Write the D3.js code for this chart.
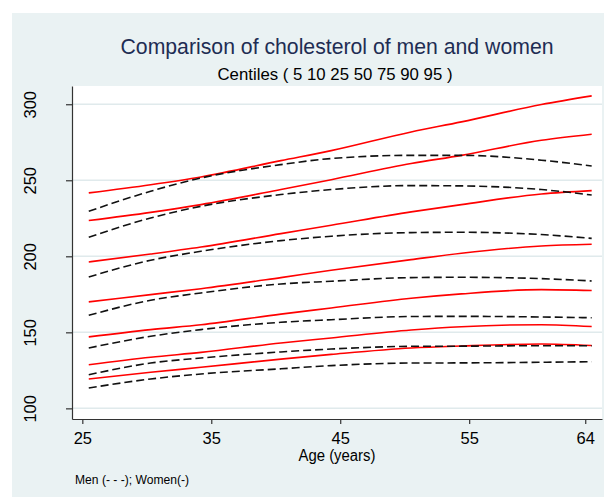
<!DOCTYPE html>
<html>
<head>
<meta charset="utf-8">
<script src="https://cdn.jsdelivr.net/npm/d3@7"></script>
<style>
  body { margin: 0; background: #fff; }
  svg { display: block; font-family: "Liberation Sans", Arial, sans-serif; }
</style>
</head>
<body>
<div id="chart"></div>
<script>
var ages = [25.5, 30.3, 34.2, 40.4, 44.3, 50.5, 54.4, 60.6, 64.5];

// women (solid red), centiles 5 10 25 50 75 90 95
var women_p5  = [119.3, 123.7, 127.0, 132.4, 135.5, 139.7, 141.0, 142.3, 141.3];
var women_p10 = [128.7, 133.6, 136.8, 143.0, 146.3, 151.5, 153.7, 155.0, 153.8];
var women_p25 = [147.0, 151.8, 155.0, 162.0, 166.0, 172.4, 175.3, 178.1, 177.5];
var women_p50 = [170.0, 174.8, 178.7, 186.0, 190.8, 197.8, 202.0, 206.8, 207.9];
var women_p75 = [196.3, 201.5, 206.1, 214.9, 220.4, 229.2, 234.0, 241.0, 243.2];
var women_p90 = [223.5, 228.9, 234.0, 243.9, 250.4, 261.0, 266.4, 276.3, 280.3];
var women_p95 = [241.7, 247.1, 252.2, 262.9, 269.5, 281.8, 288.4, 299.8, 305.5];

// men (dashed black)
var men_p5  = [113.4, 119.3, 122.6, 126.0, 128.1, 129.8, 129.9, 130.3, 130.7];
var men_p10 = [122.1, 129.8, 133.1, 137.1, 139.0, 140.8, 140.9, 141.2, 141.2];
var men_p25 = [139.7, 147.4, 151.8, 156.6, 158.3, 160.4, 160.5, 160.1, 159.6];
var men_p50 = [161.2, 171.1, 175.9, 181.8, 183.6, 186.0, 186.2, 185.3, 183.8];
var men_p75 = [186.4, 197.4, 203.3, 210.3, 213.2, 215.6, 215.8, 214.3, 211.8];
var men_p90 = [212.5, 225.2, 232.9, 240.6, 243.9, 246.5, 246.3, 243.9, 240.3];
var men_p95 = [229.6, 242.8, 251.5, 260.3, 264.3, 266.4, 266.4, 263.2, 259.4];

var x_ticks = [25, 35, 45, 55, 64];
var y_ticks = [100, 150, 200, 250, 300];

var women = [women_p5, women_p10, women_p25, women_p50, women_p75, women_p90, women_p95];
var men   = [men_p5, men_p10, men_p25, men_p50, men_p75, men_p90, men_p95];

// Chart params
var width  = 604;
var height = 497;
var plot   = {left: 72, right: 602, top: 86, bottom: 419};

var bg_color   = '#eaf2f3';
var grid_color = '#e0eaec';

var svg = d3.select('#chart')
    .append('svg')
    .attr('width', width)
    .attr('height', height);

// graph region and plot region
svg.append('rect')
    .attr('x', 12).attr('y', 13)
    .attr('width', width - 12).attr('height', height - 13)
    .attr('fill', bg_color);

svg.append('rect')
    .attr('x', plot.left).attr('y', plot.top)
    .attr('width', plot.right - plot.left).attr('height', plot.bottom - plot.top)
    .attr('fill', '#fff');

// scales
var x_scale = d3.scaleLinear()
    .domain([24.2, 65.3])
    .range([plot.left, plot.right]);

var y_scale = d3.scaleLinear()
    .domain([93, 312])
    .range([plot.bottom, plot.top]);

// grid lines
svg.append('g')
    .selectAll('line')
    .data(y_ticks)
    .enter()
    .append('line')
    .attr('x1', plot.left)
    .attr('x2', plot.right)
    .attr('y1', function(d) { return y_scale(d); })
    .attr('y2', function(d) { return y_scale(d); })
    .attr('stroke', grid_color)
    .attr('stroke-width', 1.5);

var line = d3.line()
    .x(function(d, i) { return x_scale(ages[i]); })
    .y(function(d) { return y_scale(d); })
    .curve(d3.curveMonotoneX);

svg.append('g')
    .selectAll('path')
    .data(women)
    .enter()
    .append('path')
    .attr('d', line)
    .attr('fill', 'none')
    .attr('stroke', '#ff0000')
    .attr('stroke-width', 1.6);

svg.append('g')
    .selectAll('path')
    .data(men)
    .enter()
    .append('path')
    .attr('d', line)
    .attr('fill', 'none')
    .attr('stroke', '#111')
    .attr('stroke-width', 1.6)
    .attr('stroke-dasharray', '8,4');

// axes
var x_axis = d3.axisBottom(x_scale)
    .tickValues(x_ticks)
    .tickFormat(d3.format('d'))
    .tickSizeInner(5)
    .tickSizeOuter(0)
    .tickPadding(8);

var gx = svg.append('g')
    .attr('transform', 'translate(0,' + plot.bottom + ')')
    .call(x_axis);

gx.selectAll('text')
    .attr('font-size', '16.5px')
    .attr('fill', '#000');

var y_axis = d3.axisLeft(y_scale)
    .tickValues(y_ticks)
    .tickSizeInner(6)
    .tickSizeOuter(0);

var gy = svg.append('g')
    .attr('transform', 'translate(' + plot.left + ',0)')
    .call(y_axis);

// rotated y tick labels like Stata does it
gy.selectAll('text')
    .attr('transform', 'rotate(-90)')
    .attr('x', 0)
    .attr('y', -36)
    .attr('dy', 0)
    .attr('text-anchor', 'middle')
    .attr('font-size', '16.5px')
    .attr('fill', '#000');

svg.selectAll('.domain, .tick line')
    .attr('stroke', '#333')
    .attr('stroke-width', 1.2);

// titles (Stata's font is a bit narrower, so squeeze to the measured width)
svg.append('text')
    .attr('x', 337).attr('y', 54)
    .attr('text-anchor', 'middle')
    .attr('font-size', '22px')
    .attr('textLength', 433)
    .attr('lengthAdjust', 'spacingAndGlyphs')
    .attr('fill', '#1e2d53')
    .text('Comparison of cholesterol of men and women');

svg.append('text')
    .attr('x', 335).attr('y', 80)
    .attr('text-anchor', 'middle')
    .attr('font-size', '17px')
    .attr('textLength', 235)
    .attr('lengthAdjust', 'spacingAndGlyphs')
    .attr('fill', '#000')
    .text('Centiles ( 5 10 25 50 75 90 95 )');

svg.append('text')
    .attr('x', 337).attr('y', 461)
    .attr('text-anchor', 'middle')
    .attr('font-size', '16px')
    .attr('textLength', 77)
    .attr('lengthAdjust', 'spacingAndGlyphs')
    .attr('fill', '#000')
    .text('Age (years)');

svg.append('text')
    .attr('x', 75).attr('y', 484)
    .attr('font-size', '12px')
    .attr('textLength', 114)
    .attr('lengthAdjust', 'spacingAndGlyphs')
    .attr('fill', '#000')
    .text('Men (- - -); Women(-)');
</script>
</body>
</html>
